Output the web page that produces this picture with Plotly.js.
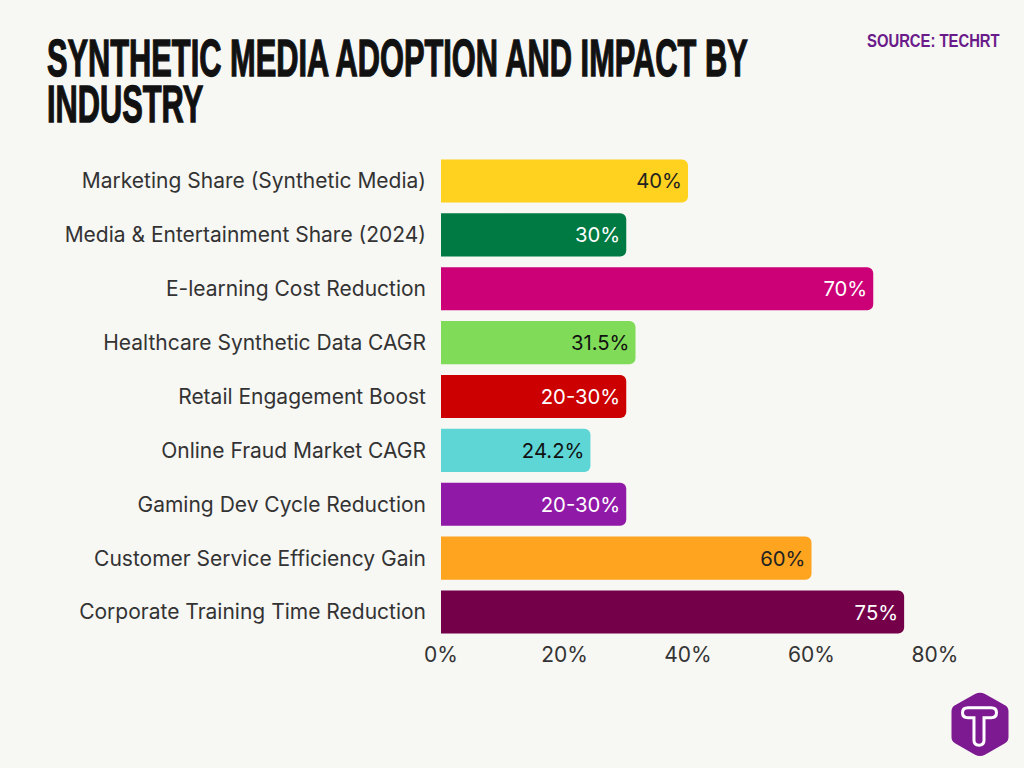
<!DOCTYPE html>
<html><head><meta charset="utf-8">
<script src="https://cdn.plot.ly/plotly-3.0.1.min.js"></script>
<style>html,body{margin:0;padding:0;background:#F7F7F3}#chart{width:1024px;height:768px}</style>
</head><body><div id="chart"></div>
<script>
const categories = ["Marketing Share (Synthetic Media)","Media & Entertainment Share (2024)","E-learning Cost Reduction","Healthcare Synthetic Data CAGR","Retail Engagement Boost","Online Fraud Market CAGR","Gaming Dev Cycle Reduction","Customer Service Efficiency Gain","Corporate Training Time Reduction"];
const values = [40,30,70,31.5,30,24.2,30,60,75];
const valueLabels = ["40%","30%","70%","31.5%","20-30%","24.2%","20-30%","60%","75%"];
const barColors = ["#FFD21F","#007A43","#CC0077","#80DB58","#CC0000","#5ED6D6","#9119A8","#FFA41F","#75004A"];
const labelColors = ["#222","#fff","#fff","#111","#fff","#111","#fff","#222","#fff"];
const xTicks = [0,20,40,60,80];
const xTickLabels = ["0%","20%","40%","60%","80%"];
const titleText = "SYNTHETIC MEDIA ADOPTION AND IMPACT BY<br>INDUSTRY";
const sourceText = "SOURCE: TECHRT";

const W=1024,H=768,L=441,R=935,T=153.5,B=639.5;
const px=x=>((x-L)/(R-L)).toFixed(4), py=y=>((B-y)/(B-T)).toFixed(4);
const P=(cmds)=>cmds.map(c=>typeof c==='string'?c:px(c[0])+','+py(c[1])).join(' ');
const hex=P(['M',[975,694.5],'Q',[980,692],[985,694.5],'L',[1005,706],'Q',[1008.5,708],[1008.5,712],'L',[1008.5,738],'Q',[1008.5,742],[1005,744],'L',[985,755.5],'Q',[980,758],[975,755.5],'L',[955,744],'Q',[951.5,742],[951.5,738],'L',[951.5,712],'Q',[951.5,708],[955,706],'Z']);
const tee=P(['M',[968,708.5],'L',[991,708.5],'Q',[996.5,708.5],[996.5,713.5],'Q',[996.5,718.5],[991,718.5],'L',[984,718.5],'L',[984,741],'Q',[984,746],[979,746],'Q',[974,746],[974,741],'L',[974,718.5],'L',[968,718.5],'Q',[962.5,718.5],[962.5,713.5],'Q',[962.5,708.5],[968,708.5],'Z']);

// squeeze a text element horizontally to the condensed width of the reference
function fit(el,left,width,dy){
  const r=el.getBoundingClientRect(), b=el.getBBox(), sx=width/r.width;
  const tx=b.x*(1-sx)+(left-r.left);
  const prev=el.getAttribute('transform')||'';
  el.setAttribute('transform',prev+' translate('+tx+','+dy+') scale('+sx+',1)');
}

Plotly.newPlot('chart',[{
  type:'bar',orientation:'h',y:categories,x:values,text:valueLabels,
  textposition:'inside',insidetextanchor:'end',textangle:0,constraintext:'none',cliponaxis:false,
  insidetextfont:{family:'Inter, sans-serif',size:20.3,color:labelColors},
  marker:{color:barColors,cornerradius:6,line:{width:0}},hoverinfo:'skip'
}],{
  width:W,height:H,paper_bgcolor:'#F7F7F3',plot_bgcolor:'#F7F7F3',showlegend:false,
  margin:{l:L,r:W-R,t:T,b:H-B,pad:0},bargap:0.2,
  title:{text:titleText,x:46/W,xanchor:'left',y:1-32/H,yanchor:'top',xref:'container',yref:'container',pad:{t:0,l:0,r:0,b:0},
    font:{family:'"Liberation Sans",sans-serif',size:51,color:'#111',weight:700}},
  xaxis:{range:[0,80],tickvals:xTicks,ticktext:xTickLabels,tickmode:'array',showgrid:false,zeroline:false,showline:false,ticks:'',
    tickfont:{family:'Inter, sans-serif',size:21,color:'#333'},ticklabelstandoff:1},
  yaxis:{autorange:'reversed',type:'category',showgrid:false,zeroline:false,showline:false,ticks:'',
    tickfont:{family:'Inter, sans-serif',size:21,color:'#333'},ticklabelstandoff:14},
  annotations:[{text:sourceText,xref:'paper',yref:'paper',x:+px(1000),y:+py(40),xanchor:'right',yanchor:'middle',showarrow:false,
    font:{family:'"Liberation Sans",sans-serif',size:19,color:'#6A1B8A',weight:700}}],
  shapes:[{type:'path',xref:'paper',yref:'paper',path:hex,fillcolor:'#7D1A92',line:{width:0},layer:'above'},
          {type:'path',xref:'paper',yref:'paper',path:tee,fillcolor:'rgba(0,0,0,0)',line:{width:3,color:'#fff'},layer:'above'}]
},{displayModeBar:false,staticPlot:true}).then(()=>{
  const t=document.querySelector('.gtitle');
  t.querySelectorAll('tspan.line').forEach((s,i)=>{if(i>0)s.setAttribute('dy','46');});
  const first=t.querySelector('tspan.line');
  const w=first.getComputedTextLength();
  const b=t.getBBox();
  const sx=701/w;
  const baseline=parseFloat(t.getAttribute('y'));
  t.setAttribute('transform','translate('+(47-b.x*sx)+','+(76-baseline)+') scale('+sx+',1)');
  t.style.stroke='#111'; t.style.strokeWidth='1.3px';
  const a=document.querySelector('.annotation-text');
  fit(a,867,133,0);
});
</script></body></html>
